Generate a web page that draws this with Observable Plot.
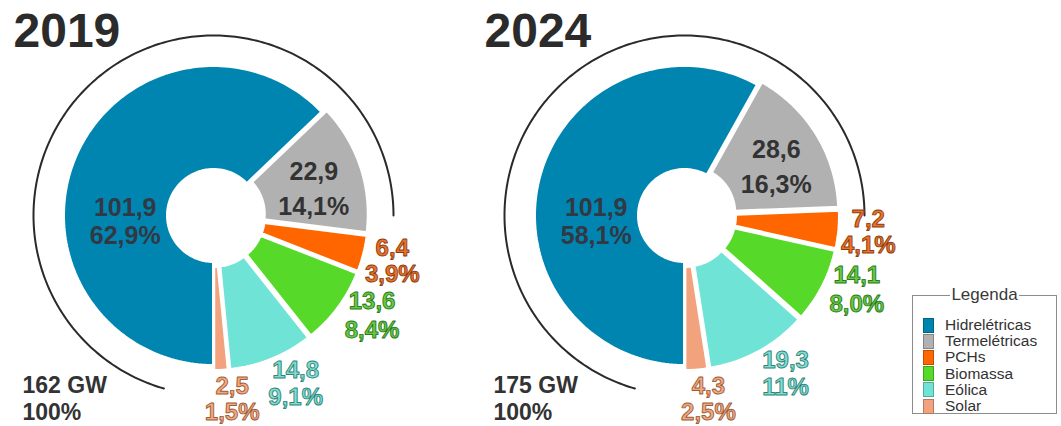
<!DOCTYPE html>
<html>
<head>
<meta charset="utf-8">
<script src="https://cdn.jsdelivr.net/npm/d3@7"></script>
<script src="https://cdn.jsdelivr.net/npm/@observablehq/plot@0.6"></script>
<style>
  body { margin: 0; background: #fff; font-family: "Liberation Sans", Arial, sans-serif; }
  #wrap { position: relative; width: 1061px; height: 426px; overflow: hidden; background: #fff; }
  #chart { position: absolute; left: 0; top: 0; }
  #legend { position: absolute; left: 912px; top: 295px; width: 145px; height: 119px;
            border: 1px solid #8c8c8c; box-sizing: border-box; }
  #legend .ttl { position: absolute; top: -11px; left: 0; width: 100%; text-align: center; }
  #legend .ttl span { background: #fff; padding: 0 1px; font-size: 17px; color: #3a3a3a; }
  #legend .items { position: absolute; left: 10px; top: 21px; }
  #legend .row { display: flex; align-items: center; height: 16.2px; }
  #legend .sw { width: 11px; height: 15px; box-sizing: border-box; border: 1px solid rgba(0,0,0,0.25); margin-right: 11px; }
  #legend .lab { font-size: 15.5px; color: #333; line-height: 16px; }
</style>
</head>
<body>
<div id="wrap"><div id="chart"></div><div id="legend"></div></div>
<script>
// ---------------- data ----------------
const years = ["2019", "2024"];
const categories = ["Hidrelétricas", "Termelétricas", "PCHs", "Biomassa", "Eólica", "Solar"];
const values2019 = [101.9, 22.9, 6.4, 13.6, 14.8, 2.5];
const values2024 = [101.9, 28.6, 7.2, 14.1, 19.3, 4.3];
const pct2019 = ["62,9%", "14,1%", "3,9%", "8,4%", "9,1%", "1,5%"];
const pct2024 = ["58,1%", "16,3%", "4,1%", "8,0%", "11%", "2,5%"];
const totalsGW = [162, 175];
const totalPct = ["100%", "100%"];
const colors = ["#0085b1", "#b1b1b1", "#ff6600", "#57d92a", "#6ee3d6", "#f2a27c"];

// ---------------- layout ----------------
const W = 912, H = 426;
const CX = [213, 684], CY = 215, R_OUT = 150, R_IN = 46, R_ARC = 180, EXPLODE = 5;
const ARC_FROM = 196, ARC_TO = 450;
const GAP = [28, 35, 26, 29, 27, 26];
const NUDGE = [0, 4, 0, -7, -4, -3];
const OUT_R = [0.59, 0.69, 1.23, 1.25, 1.25, 1.235];
const FS = [25, 25, 24, 24, 24, 24];
const TXT_FILL = ["#323844", "#333333", "#ea7229", "#66c942", "#84dacd", "#f0a981"];
const TXT_STROKE = [null, null, "#8a3c0f", "#2c7a20", "#2d857b", "#9c5c36"];

const valuesByYear = [values2019, values2024];
const pctByYear = [pct2019, pct2024];
const rad = d => d * Math.PI / 180;
const pt = (cx, cy, deg, r) => [cx + r * Math.sin(rad(deg)), cy - r * Math.cos(rad(deg))];
const fmt = v => v.toFixed(1).replace(".", ",");

const slicePts = [], arcPts = [], labels = [], titles = [], totals = [];
years.forEach((yr, yi) => {
  const vals = valuesByYear[yi], pcts = pctByYear[yi], cx = CX[yi];
  const total = d3.sum(vals);
  let a = 180, prev = -Infinity;
  vals.forEach((v, i) => {
    const span = v / total * 360, a0 = a, a1 = a + span, mid = (a0 + a1) / 2;
    const off = i === 0 ? 0 : EXPLODE;
    const ox = off * Math.sin(rad(mid)), oy = -off * Math.cos(rad(mid));
    const n = Math.max(2, Math.ceil(span / 1.5));
    const key = yr + "-" + i;
    for (let k = 0; k <= n; k++) {
      const [x, y] = pt(cx + ox, CY + oy, a0 + span * k / n, R_OUT);
      slicePts.push({key, cat: categories[i], x, y});
    }
    for (let k = n; k >= 0; k--) {
      const [x, y] = pt(cx + ox, CY + oy, a0 + span * k / n, R_IN);
      slicePts.push({key, cat: categories[i], x, y});
    }
    let la;
    if (i === 0) la = 266;
    else if (i === 1) la = mid + NUDGE[i];
    else { la = Math.max(mid + NUDGE[i], 102, prev + 18); prev = la; }
    const [lx, ly] = pt(cx, CY, la, OUT_R[i] * R_OUT);
    labels.push({cat: i, x: lx, y: ly, value: fmt(v), pct: pcts[i], gap: GAP[i]});
    a = a1;
  });
  const m = ARC_TO - ARC_FROM;
  for (let k = 0; k <= m; k++) {
    const [x, y] = pt(cx, CY, ARC_FROM + (ARC_TO - ARC_FROM) * k / m, R_ARC);
    arcPts.push({year: yr, x, y});
  }
  titles.push({text: yr, x: cx - 200, y: 31});
  totals.push({x: cx - 191, y: CY + 170, gw: totalsGW[yi] + " GW", pct: totalPct[yi]});
});

const FONT = "Liberation Sans, Arial, Helvetica, sans-serif";
const labelMarks = [];
categories.forEach((c, i) => {
  const d = labels.filter(l => l.cat === i);
  const style = {
    fontSize: FS[i], fontWeight: "bold", fontFamily: FONT, fill: TXT_FILL[i],
    textAnchor: "middle", lineAnchor: "middle"
  };
  if (TXT_STROKE[i]) Object.assign(style, {stroke: TXT_STROKE[i], strokeWidth: 0.9, paintOrder: "fill"});
  labelMarks.push(Plot.text(d, {x: "x", y: l => l.y - l.gap / 2, text: "value", ...style}));
  labelMarks.push(Plot.text(d, {x: "x", y: l => l.y + l.gap / 2, text: "pct", ...style}));
});

const chart = Plot.plot({
  width: W, height: H, margin: 0,
  x: {domain: [0, W], range: [0, W], axis: null},
  y: {domain: [0, H], range: [0, H], axis: null},
  color: {domain: categories, range: colors},
  style: {background: "transparent", overflow: "visible"},
  marks: [
    Plot.line(arcPts, {x: "x", y: "y", z: "year", stroke: "#2a2a2a", strokeWidth: 2}),
    Plot.line(slicePts, {x: "x", y: "y", z: "key", fill: "cat", stroke: "white", strokeWidth: 3, curve: "linear-closed"}),
    ...labelMarks,
    Plot.text(titles, {x: "x", y: "y", text: "text", fontSize: 48, fontWeight: "bold", fontFamily: FONT,
      fill: "#2b2b2b", textAnchor: "start", lineAnchor: "middle"}),
    Plot.text(totals, {x: "x", y: "y", text: "gw", fontSize: 23, fontWeight: "bold", fontFamily: FONT,
      fill: "#333", textAnchor: "start", lineAnchor: "middle"}),
    Plot.text(totals, {x: "x", y: d => d.y + 27, text: "pct", fontSize: 23, fontWeight: "bold", fontFamily: FONT,
      fill: "#333", textAnchor: "start", lineAnchor: "middle"})
  ]
});
document.getElementById("chart").appendChild(chart);

// ---------------- legend ----------------
const lg = document.getElementById("legend");
const ttl = document.createElement("div"); ttl.className = "ttl";
const ts = document.createElement("span"); ts.textContent = "Legenda"; ttl.appendChild(ts); lg.appendChild(ttl);
const items = document.createElement("div"); items.className = "items";
categories.forEach((c, i) => {
  const r = document.createElement("div"); r.className = "row";
  const sw = document.createElement("div"); sw.className = "sw"; sw.style.background = colors[i];
  const lb = document.createElement("div"); lb.className = "lab"; lb.textContent = c;
  r.appendChild(sw); r.appendChild(lb); items.appendChild(r);
});
lg.appendChild(items);
</script>
</body>
</html>
